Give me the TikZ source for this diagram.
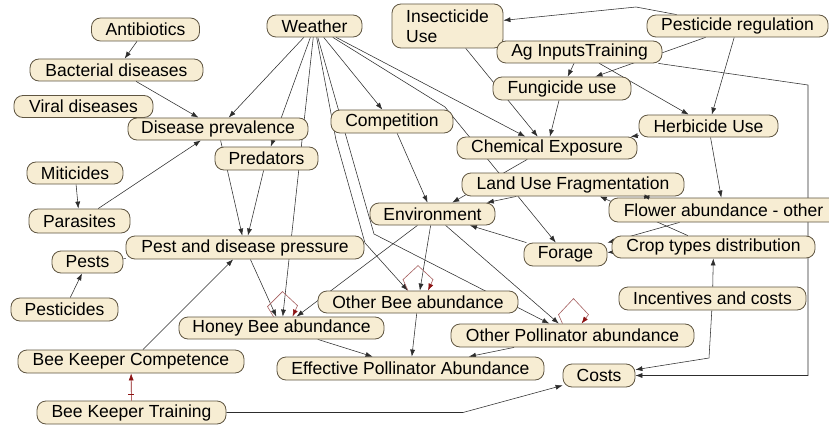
\documentclass[tikz,border=0pt]{standalone}
\usepackage{fontspec}
\setmainfont{Liberation Sans}
\usetikzlibrary{arrows.meta,calc}
\definecolor{nodefill}{RGB}{247,237,211}
\definecolor{nodeline}{RGB}{95,85,65}
\definecolor{edgecol}{RGB}{45,45,45}
\definecolor{loopcol}{RGB}{165,95,95}
\definecolor{loophead}{RGB}{140,20,20}
\pgfdeclarelayer{bg}
\pgfsetlayers{bg,main}
\tikzset{
  bn/.style={draw=nodeline, fill=nodefill, line width=0.8pt, rounded corners=9pt,
    inner sep=0pt, font=\fontsize{17.5}{20}\selectfont, text=black},
  link/.style={draw=edgecol, line width=0.55pt, -{Latex[length=7pt,width=5pt]}},
  plainlink/.style={draw=edgecol, line width=0.55pt},
  selfloop/.style={draw=loopcol, line width=0.6pt, -{Latex[length=7pt,width=5pt,color=loophead]}},
  redlink/.style={draw=loophead, line width=0.6pt, -{Latex[length=7pt,width=5pt,color=loophead]}},
}
\begin{document}
\begin{tikzpicture}[x=1pt,y=-1pt]
\useasboundingbox (0,0) rectangle (829,425);

% nodes
\node[bn, minimum width=108pt, minimum height=23pt] (ant) at (145.5,29.5) {Antibiotics};
\node[bn, minimum width=173pt, minimum height=22pt] (bac) at (116.5,70) {Bacterial diseases};
\node[bn, minimum width=139pt, minimum height=22pt] (vir) at (83.5,106.5) {Viral diseases};
\node[bn, minimum width=180pt, minimum height=22pt] (dis) at (218,129) {Disease prevalence};
\node[bn, minimum width=103pt, minimum height=23pt] (pred) at (266.5,158.5) {Predators};
\node[bn, minimum width=95pt, minimum height=22pt] (wea) at (314.5,26) {Weather};
\node[bn, minimum width=111pt, minimum height=44pt, align=left] (ins) at (447.5,26) {Insecticide\\Use};
\node[bn, minimum width=181pt, minimum height=22pt] (pr) at (737.5,26) {Pesticide regulation};
\node[bn, minimum width=165pt, minimum height=22pt] (ag) at (579.5,52) {Ag InputsTraining};
\node[bn, minimum width=138pt, minimum height=23pt] (fun) at (562,88.5) {Fungicide use};
\node[bn, minimum width=139pt, minimum height=22pt] (herb) at (708.5,126) {Herbicide Use};
\node[bn, minimum width=180pt, minimum height=22pt] (chem) at (547,148) {Chemical Exposure};
\node[bn, minimum width=122pt, minimum height=23pt] (comp) at (392,121.5) {Competition};
\node[bn, minimum width=222pt, minimum height=23pt] (luf) at (573,184.5) {Land Use Fragmentation};
\node[bn, minimum width=125pt, minimum height=22pt] (env) at (432.5,214) {Environment};
\node[bn, minimum width=229pt, minimum height=24pt] (flow) at (723.5,210) {Flower abundance - other\hspace{12pt}};
\node[bn, minimum width=83pt, minimum height=23pt] (forage) at (565.5,254.5) {Forage};
\node[bn, minimum width=203pt, minimum height=22pt] (crop) at (713.5,247) {Crop types distribution};
\node[bn, minimum width=96pt, minimum height=22pt] (mit) at (75,173) {Miticides};
\node[bn, minimum width=101pt, minimum height=24pt] (par) at (79.5,221) {Parasites};
\node[bn, minimum width=238pt, minimum height=23pt] (pd) at (245,247.5) {Pest and disease pressure};
\node[bn, minimum width=71pt, minimum height=22pt] (pests) at (87.5,262) {Pests};
\node[bn, minimum width=107pt, minimum height=23pt] (pcides) at (64.5,309.5) {Pesticides};
\node[bn, minimum width=200pt, minimum height=22pt] (ob) at (418,302) {Other Bee abundance};
\node[bn, minimum width=205pt, minimum height=22pt] (hb) at (281.5,328) {Honey Bee abundance};
\node[bn, minimum width=243pt, minimum height=23pt] (op) at (572.5,335.5) {Other Pollinator abundance};
\node[bn, minimum width=187pt, minimum height=23pt] (inc) at (712.5,298.5) {Incentives and costs};
\node[bn, minimum width=226pt, minimum height=23pt] (bkc) at (131,361.5) {Bee Keeper Competence};
\node[bn, minimum width=267pt, minimum height=23pt] (eff) at (410.5,368.5) {Effective Pollinator Abundance};
\node[bn, minimum width=72pt, minimum height=23pt] (costs) at (599,375.5) {Costs};
\node[bn, minimum width=189pt, minimum height=23pt] (bkt) at (131.5,412.5) {Bee Keeper Training};

% bend points
\coordinate (wob1) at (336,140);
\coordinate (wob2) at (365,243);
\coordinate (wop1) at (374,234);
\coordinate (wfo1) at (445,107);
\coordinate (pri1) at (636,7);
\coordinate (agc1) at (808,85);
\coordinate (agc2) at (808,375.5);
\coordinate (inc1) at (709,358);
\coordinate (bkt1) at (463,412.5);

\begin{pgfonlayer}{bg}
\fill[white] (0,0) rectangle (829,425);
\draw[link] (ant) -- (bac);
\draw[link] (bac) -- (dis);
\draw[link] (wea) -- (dis);
\draw[link] (par) -- (dis);
\draw[link] (mit) -- (par);
\draw[link] (wea) -- (pred);
\draw[link] (dis) -- (pd);
\draw[link] (pred) -- (pd);
\draw[link] (wea) -- (hb);
\draw[link] (pd) -- (hb);
\draw[link] (env) -- (hb);
\draw[link] (env) -- (ob);
\draw[link] (env) -- (op);
\draw[link] (wea) -- (comp);
\draw[link] (comp) -- (env);
\draw[link] (wea) -- (chem);
\draw[link] (ins) -- (chem);
\draw[link] (fun) -- (chem);
\draw[link] (herb) -- (chem);
\draw[link] (ag) -- (fun);
\draw[link] (pr) -- (fun);
\draw[link] (pr) -- (herb);
\draw[link] (ag) -- (herb);
\draw[link] (herb) -- (flow);
\draw[link] (crop) -- (luf);
\draw[link] (flow) -- (forage);
\draw[link] (crop) -- (forage);
\draw[link] (luf) -- (env);
\draw[link] (chem) -- (env);
\draw[link] (forage) -- (env);
\draw[link] (ob) -- (eff);
\draw[link] (hb) -- (eff);
\draw[link] (op) -- (eff);
\draw[link] (inc) -- (crop);
\draw[link] (bkc) -- (pd);
\draw[link] (pcides) -- (pests);
\draw[plainlink] (pests) -- (pd);
\draw[link] (wea) -- (wob1) -- (wob2) -- (ob);
\draw[link] (wea) -- (wop1) -- (op);
\draw[link] (wea) -- (wfo1) -- (forage);
\draw[link] (pr) -- (pri1) -- (ins);
\draw[link] (ag) -- (agc1) -- (agc2) -- (costs);
\draw[link] (inc) -- (inc1) -- (costs);
\draw[link] (bkt) -- (bkt1) -- (costs);
\end{pgfonlayer}

% self loops
\draw[selfloop] ([xshift=-8pt]hb.north) -- ++(-6,-10) -- ++(15,-15) -- ++(15,14) -- ([xshift=11pt]hb.north);
\draw[selfloop] ([xshift=-10pt]ob.north) -- ++(-5,-11) -- ++(15,-14) -- ++(15,14) -- ([xshift=10pt]ob.north);
\draw[selfloop] ([xshift=-10pt]op.north) -- ++(-4,-9) -- ++(15,-16) -- ++(15,16) -- ([xshift=9pt]op.north);

% bee keeper training -> competence
\draw[redlink] (bkt) -- (bkc) coordinate[pos=0.25] (tick);
\draw[draw=loophead, line width=0.6pt] ([xshift=-3pt]tick) -- ([xshift=3pt]tick);

% land use <-> flower
\draw[draw=edgecol, line width=0.55pt, {Latex[length=6pt,width=4.5pt]}-{Latex[length=6pt,width=4.5pt]}] (luf) -- (flow);
\end{tikzpicture}
\end{document}
